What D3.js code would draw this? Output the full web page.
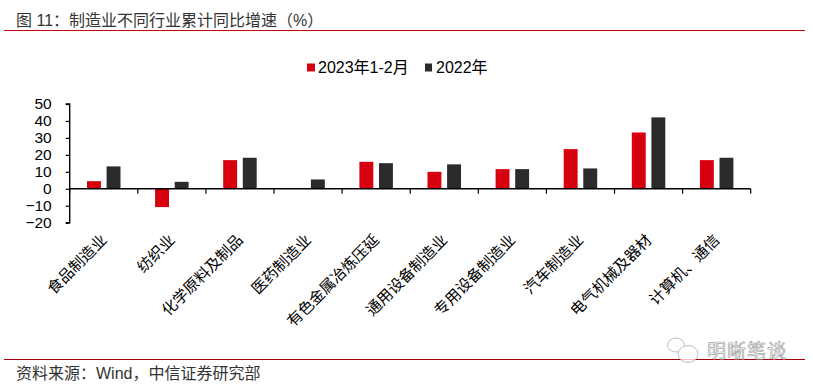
<!DOCTYPE html>
<html><head><meta charset="utf-8">
<script src="https://cdn.jsdelivr.net/npm/d3@7/dist/d3.min.js"></script>
<style>html,body{margin:0;padding:0;background:#fff}svg{display:block}</style>
</head><body><svg id="c" width="813" height="387"></svg>
<script>
const categories=["食品制造业","纺织业","化学原料及制品","医药制造业","有色金属冶炼压延","通用设备制造业","专用设备制造业","汽车制造业","电气机械及器材","计算机、通信"];
const series2023=[4.5,-10.8,16.9,null,15.9,10,11.6,23.4,33.2,16.9];
const series2022=[13.2,4.1,18.3,5.5,15.1,14.4,11.6,12,42.1,18.3];
const yTicks=[50,40,30,20,10,0,-10,-20];
const seriesNames=["2023年1-2月","2022年"];
const colors=["#d7000f","#2b2b2b"];
const FONT='"Liberation Sans","Noto Sans CJK SC",sans-serif';
const svg=d3.select("#c").style("font-family",FONT);
const x=d3.scaleBand().domain(categories).range([69.7,750.7]);
const y=d3.scaleLinear().domain([-20,50]).range([222.7,104]);
const x1=d3.scaleBand().domain([0,1]).range([17.3,50.8]).paddingInner(0.29);

// header and footer
svg.append("text").attr("x",16).attr("y",26).attr("font-size",16).attr("fill","#333")
  .text("图 11：制造业不同行业累计同比增速（%）");
svg.append("line").attr("x1",4).attr("x2",805).attr("y1",30.5).attr("y2",30.5).attr("stroke","#c8000b").attr("stroke-width",1);
svg.append("line").attr("x1",4).attr("x2",805).attr("y1",359.5).attr("y2",359.5).attr("stroke","#a80008").attr("stroke-width",1);
svg.append("text").attr("x",16).attr("y",379).attr("font-size",16).attr("fill","#333")
  .text("资料来源：Wind，中信证券研究部");

// legend
const lg=svg.append("g");
[[307,318],[425,436]].forEach((p,i)=>{
  lg.append("rect").attr("x",p[0]).attr("y",63.5).attr("width",i?7:8).attr("height",8).attr("fill",colors[i]);
  lg.append("text").attr("x",p[1]).attr("y",73).attr("font-size",16).attr("fill","#000").text(seriesNames[i]);
});

// bars
[series2023,series2022].forEach((vals,i)=>{
  svg.append("g").selectAll("rect").data(vals.map((v,j)=>({v,c:categories[j]})).filter(d=>d.v!==null))
    .join("rect")
    .attr("x",d=>x(d.c)+x1(i))
    .attr("width",x1.bandwidth())
    .attr("y",d=>y(Math.max(0,d.v)))
    .attr("height",d=>Math.abs(y(d.v)-y(0)))
    .attr("fill",colors[i]);
});

// y axis
const gy=svg.append("g").attr("transform","translate(69.7,0)")
  .call(d3.axisLeft(y).tickValues(yTicks).tickSize(4).tickPadding(14).tickFormat(d3.format("d")));
gy.selectAll("path").attr("stroke","#000").attr("stroke-width",1.4).attr("d","M-4,104H0V222.7H-4");
gy.selectAll("line").attr("stroke","#000").attr("stroke-width",1.2);
gy.selectAll("text").attr("font-size",15.5).attr("font-family",FONT).attr("fill","#000").attr("dy","0.3em");

// x axis on zero line
const gx=svg.append("g").attr("transform",`translate(0,${y(0)})`);
gx.append("line").attr("x1",69.7).attr("x2",750.7).attr("stroke","#000").attr("stroke-width",1.6);
gx.selectAll("line.t").data(categories.concat(["__end"])).join("line").attr("class","t")
  .attr("x1",d=>d==="__end"?750.7:x(d)).attr("x2",d=>d==="__end"?750.7:x(d))
  .attr("y1",0).attr("y2",5).attr("stroke","#000").attr("stroke-width",1.2);

// category labels
svg.append("g").selectAll("text").data(categories).join("text")
  .attr("transform",d=>`translate(${x(d)+x.bandwidth()/2+4},241) rotate(-45)`)
  .attr("text-anchor","end").attr("font-size",15.3).attr("fill","#000").text(d=>d);

// watermark
const wm=svg.append("g").attr("opacity",.75);
wm.append("ellipse").attr("cx",676).attr("cy",345).attr("rx",8.5).attr("ry",7).attr("fill","#fff").attr("stroke","#aaa");
wm.append("ellipse").attr("cx",688).attr("cy",354).attr("rx",10).attr("ry",8.5).attr("fill","#fff").attr("stroke","#aaa");
wm.append("text").attr("x",707).attr("y",358).attr("font-size",19).attr("font-family",'"Noto Sans CJK SC"')
  .attr("fill","#fff").attr("stroke","#888").attr("stroke-width",.7).attr("letter-spacing",1).text("明晰笔谈");
</script></body></html>
